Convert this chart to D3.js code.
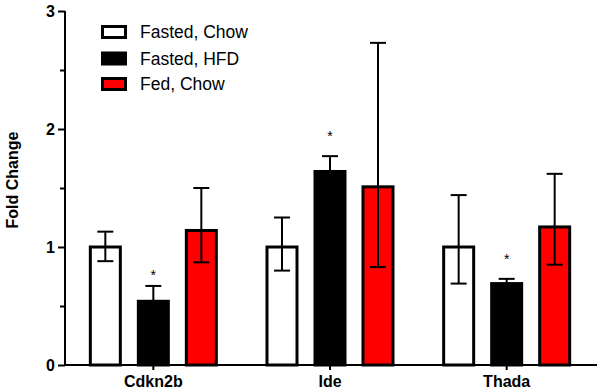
<!DOCTYPE html>
<html>
<head>
<meta charset="utf-8">
<script src="https://cdn.jsdelivr.net/npm/d3@7"></script>
<style>
  html, body { margin: 0; padding: 0; background: #fff; }
  svg { display: block; font-family: "Liberation Sans", Arial, Helvetica, sans-serif; }
</style>
</head>
<body>
<svg id="chart" width="600" height="392"></svg>
<script>
// ---- data ----
const genes = ["Cdkn2b", "Ide", "Thada"];
const seriesNames = ["Fasted, Chow", "Fasted, HFD", "Fed, Chow"];
const seriesColors = ["#ffffff", "#000000", "#ff0000"];
const fastedChow = [1.00, 1.00, 1.00];
const fastedHFD = [0.54, 1.64, 0.69];
const fedChow = [1.14, 1.51, 1.17];
const errUpperFastedChow = [1.13, 1.25, 1.44];
const errLowerFastedChow = [0.88, 0.80, 0.69];
const errUpperFastedHFD = [0.67, 1.77, 0.73];
const errLowerFastedHFD = [0.42, 1.52, 0.66];
const errUpperFedChow = [1.50, 2.73, 1.62];
const errLowerFedChow = [0.87, 0.83, 0.85];
const asteriskLevel = [0.79, 1.97, 0.92]; // "*" above Fasted, HFD bars
const yMajorTicks = [0, 1, 2, 3];
const yMinorTicks = [0.5, 1.5, 2.5];

const values = [fastedChow, fastedHFD, fedChow];
const upper = [errUpperFastedChow, errUpperFastedHFD, errUpperFedChow];
const lower = [errLowerFastedChow, errLowerFastedHFD, errLowerFedChow];

const svg = d3.select("#chart");
const y = d3.scaleLinear().domain([0, 3]).range([365, 11]);
const x = d3.scaleBand().domain(genes).range([65, 595]);
const xs = d3.scaleBand().domain(seriesNames).range([-72, 72])
  .paddingInner(0.3125).paddingOuter(0.15625);

const rows = [];
seriesNames.forEach((s, si) => {
  genes.forEach((g, gi) => {
    rows.push({ s, si, g, gi, v: values[si][gi], hi: upper[si][gi], lo: lower[si][gi] });
  });
});

const cx = d => x(d.g) + x.bandwidth() / 2 + xs(d.s) + xs.bandwidth() / 2;
const bw = 3;

// bars
svg.append("g").selectAll("rect").data(rows).join("rect")
  .attr("x", d => cx(d) - xs.bandwidth() / 2 + bw / 2)
  .attr("width", xs.bandwidth() - bw)
  .attr("y", d => y(d.v))
  .attr("height", d => y(0) - y(d.v))
  .attr("fill", d => seriesColors[d.si])
  .attr("stroke", "#000")
  .attr("stroke-width", bw);

// error bars
const eb = svg.append("g").attr("stroke", "#000").attr("stroke-width", 2).attr("fill", "none");
const capW = 8;
rows.forEach(d => {
  const c = cx(d);
  eb.append("line").attr("x1", c).attr("x2", c).attr("y1", y(d.hi)).attr("y2", y(d.lo));
  eb.append("line").attr("x1", c - capW).attr("x2", c + capW).attr("y1", y(d.hi)).attr("y2", y(d.hi));
  eb.append("line").attr("x1", c - capW).attr("x2", c + capW).attr("y1", y(d.lo)).attr("y2", y(d.lo));
});

// asterisks
svg.append("g").selectAll("text").data(genes).join("text")
  .attr("x", (g) => x(g) + x.bandwidth() / 2 + xs(seriesNames[1]) + xs.bandwidth() / 2)
  .attr("y", (g, i) => y(asteriskLevel[i]) + 8)
  .attr("text-anchor", "middle")
  .attr("font-size", 14)
  .text("*");

// y axis
const yAxis = svg.append("g").attr("transform", "translate(65,0)")
  .call(d3.axisLeft(y).tickValues(yMajorTicks).tickSize(7).tickPadding(3).tickFormat(d3.format("d")));
yAxis.select(".domain").attr("stroke-width", 2).attr("d", `M0,${y(3)}V${y(0) + 1}`);
yAxis.selectAll(".tick line").attr("stroke-width", 2);
yAxis.selectAll(".tick text").attr("font-size", 16).attr("font-weight", "bold")
  .attr("font-family", "Liberation Sans, Arial, sans-serif").attr("fill", "#000");
const yMinor = svg.append("g").attr("transform", "translate(65,0)")
  .call(d3.axisLeft(y).tickValues(yMinorTicks).tickSize(5).tickFormat(""));
yMinor.select(".domain").remove();
yMinor.selectAll(".tick line").attr("stroke-width", 2);

// x axis
const xAxis = svg.append("g").attr("transform", `translate(0,${y(0)})`)
  .call(d3.axisBottom(x).tickSize(5).tickPadding(6));
xAxis.select(".domain").attr("stroke-width", 2).attr("d", "M64,0H597");
xAxis.selectAll(".tick line").attr("stroke-width", 2);
xAxis.selectAll(".tick text").attr("font-size", 16).attr("font-weight", "bold")
  .attr("font-family", "Liberation Sans, Arial, sans-serif").attr("fill", "#000");

// y title
svg.append("text")
  .attr("transform", "translate(18,180) rotate(-90)")
  .attr("text-anchor", "middle")
  .attr("font-size", 16).attr("font-weight", "bold")
  .text("Fold Change");

// legend
const legendTop = [32, 58.5, 84];
const lg = svg.append("g");
seriesNames.forEach((s, i) => {
  lg.append("rect")
    .attr("x", 102.5).attr("y", legendTop[i] - 5.5)
    .attr("width", 23).attr("height", 11)
    .attr("fill", seriesColors[i]).attr("stroke", "#000").attr("stroke-width", 3);
  lg.append("text")
    .attr("x", 140).attr("y", legendTop[i] + 6)
    .attr("font-size", 17.5)
    .text(s);
});
</script>
</body>
</html>
